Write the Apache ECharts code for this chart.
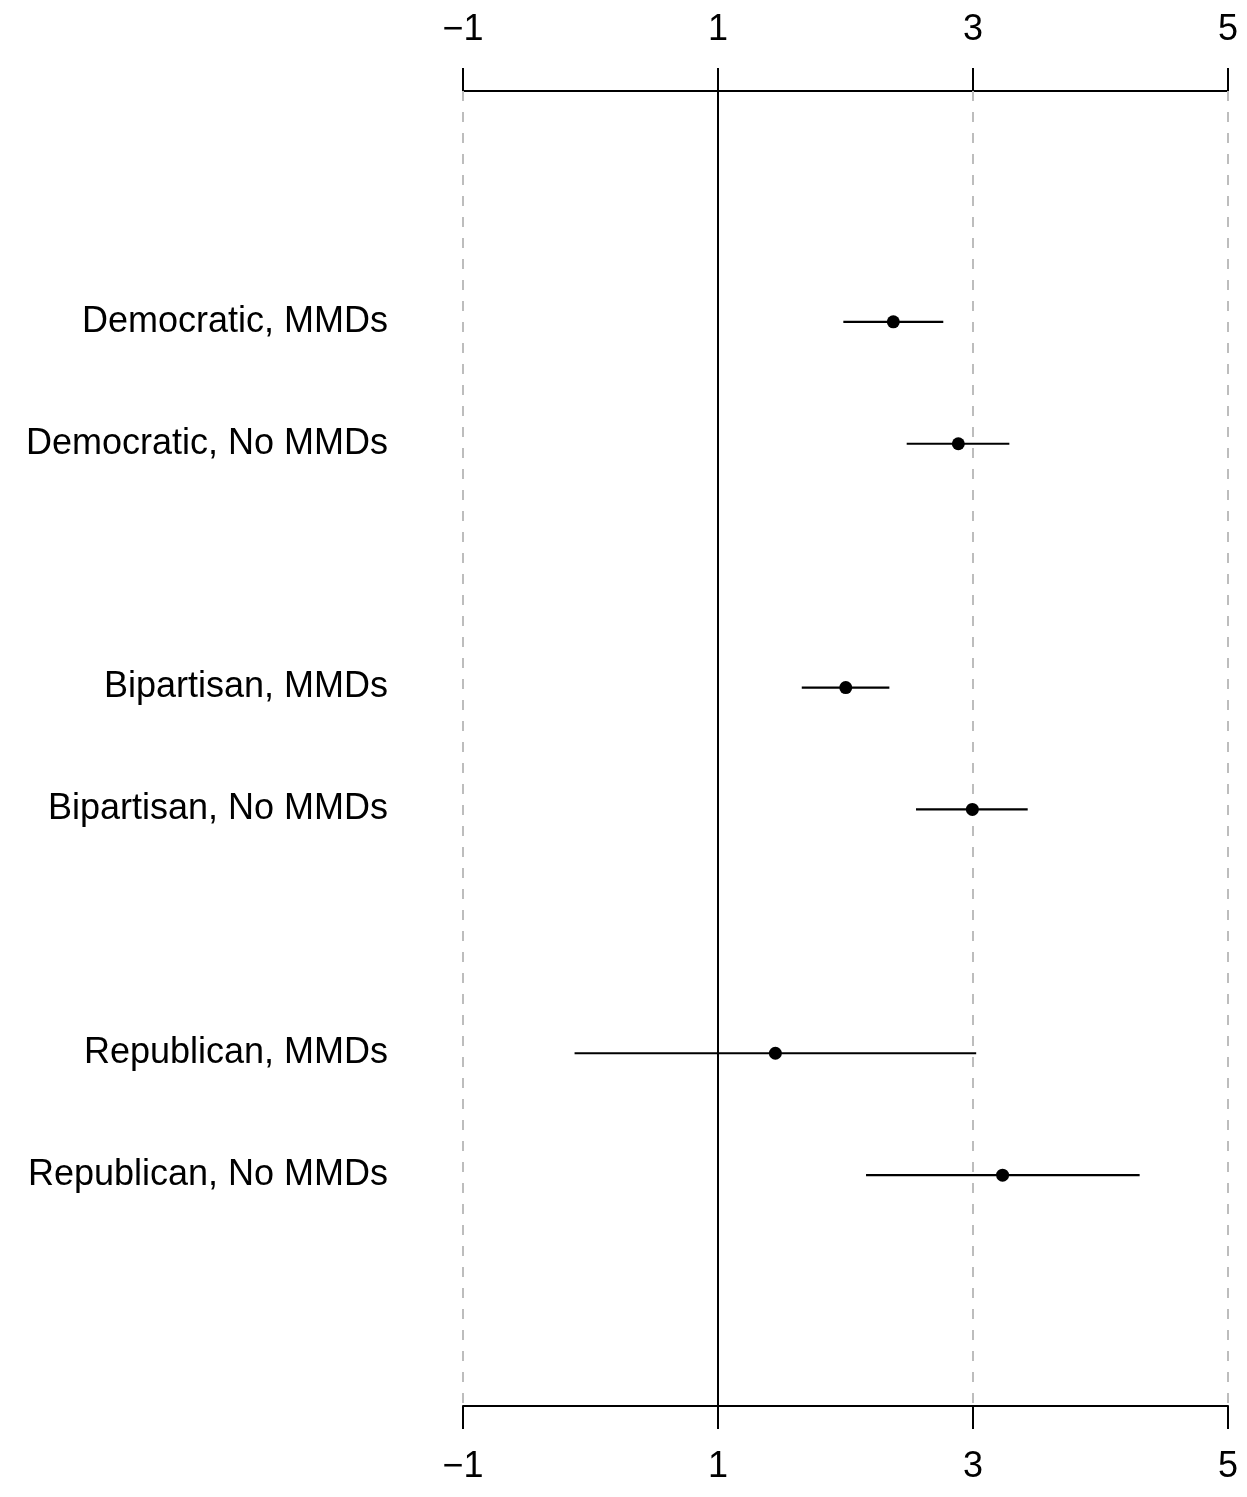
<!DOCTYPE html>
<html>
<head>
<meta charset="utf-8">
<script src="https://cdn.jsdelivr.net/npm/echarts@6/dist/echarts.min.js"></script>
<style>
html,body{margin:0;padding:0;background:#fff;}
#chart{width:1247px;height:1497px;}
</style>
</head>
<body>
<div id="chart"></div>
<script>
const categories = ['Democratic, MMDs', 'Democratic, No MMDs', 'Bipartisan, MMDs', 'Bipartisan, No MMDs', 'Republican, MMDs', 'Republican, No MMDs'];
const estimates = [2.375, 2.885, 2.002, 2.995, 1.450, 3.232];
const lower = [1.983, 2.480, 1.657, 2.553, -0.125, 2.161];
const upper = [2.767, 3.285, 2.344, 3.429, 3.025, 4.307];
const xTicks = [-1, 1, 3, 5];
const refDashed = [-1, 3, 5];
const refSolid = [1];

// rows: pairs of groups separated by one empty row
const rowPos = categories.map((c, i) => i + Math.floor(i / 2) + 1);
const FONT = '"Liberation Sans", Arial, Helvetica, sans-serif';
const fmtX = v => (v < 0 ? '\u2212' + Math.abs(v) : String(v));

const xAxisBase = {
  type: 'value', min: -1, max: 5,
  axisLine: { show: true, onZero: false, lineStyle: { color: '#000', width: 2 } },
  axisTick: { show: true, inside: false, length: 23, customValues: xTicks, lineStyle: { color: '#000', width: 2 } },
  axisLabel: { show: true, customValues: xTicks, formatter: fmtX, fontSize: 36, color: '#000', fontFamily: FONT, margin: 43 },
  splitLine: { show: false }
};

const chart = echarts.init(document.getElementById('chart'), null, { renderer: 'canvas' });
chart.setOption({
  animation: false,
  backgroundColor: '#fff',
  grid: { left: 463, right: 19, top: 91, bottom: 91, containLabel: false },
  xAxis: [
    Object.assign({}, xAxisBase, { position: 'top' }),
    Object.assign({}, xAxisBase, { position: 'bottom' })
  ],
  yAxis: {
    type: 'value', inverse: true, min: -0.8934, max: 9.8934,
    axisLine: { show: false, onZero: false }, axisTick: { show: false }, splitLine: { show: false },
    axisLabel: {
      show: true, customValues: rowPos,
      formatter: v => categories[rowPos.indexOf(v)] || '',
      fontSize: 36, color: '#000', fontFamily: FONT, margin: 75
    }
  },
  series: [
    {
      type: 'line', data: [], xAxisIndex: 0, z: 1, silent: true,
      markLine: {
        z: 1, silent: true, symbol: 'none', label: { show: false }, animation: false,
        data: refDashed.map(v => ({ xAxis: v, lineStyle: { color: '#bdbdbd', width: 2, type: [10, 11] } }))
          .concat(refSolid.map(v => ({ xAxis: v, lineStyle: { color: '#000', width: 2, type: 'solid' } })))
      }
    },
    {
      type: 'custom', xAxisIndex: 0, z: 3, silent: true,
      data: categories.map((c, i) => [lower[i], upper[i], rowPos[i]]),
      renderItem: (params, api) => {
        const p1 = api.coord([api.value(0), api.value(2)]);
        const p2 = api.coord([api.value(1), api.value(2)]);
        return { type: 'line', shape: { x1: p1[0], y1: p1[1], x2: p2[0], y2: p2[1] }, style: { stroke: '#000', lineWidth: 2.2 } };
      }
    },
    {
      type: 'scatter', xAxisIndex: 0, z: 4, silent: true,
      symbol: 'circle', symbolSize: 13, itemStyle: { color: '#000', opacity: 1 },
      data: categories.map((c, i) => [estimates[i], rowPos[i]])
    }
  ]
});
</script>
</body>
</html>
